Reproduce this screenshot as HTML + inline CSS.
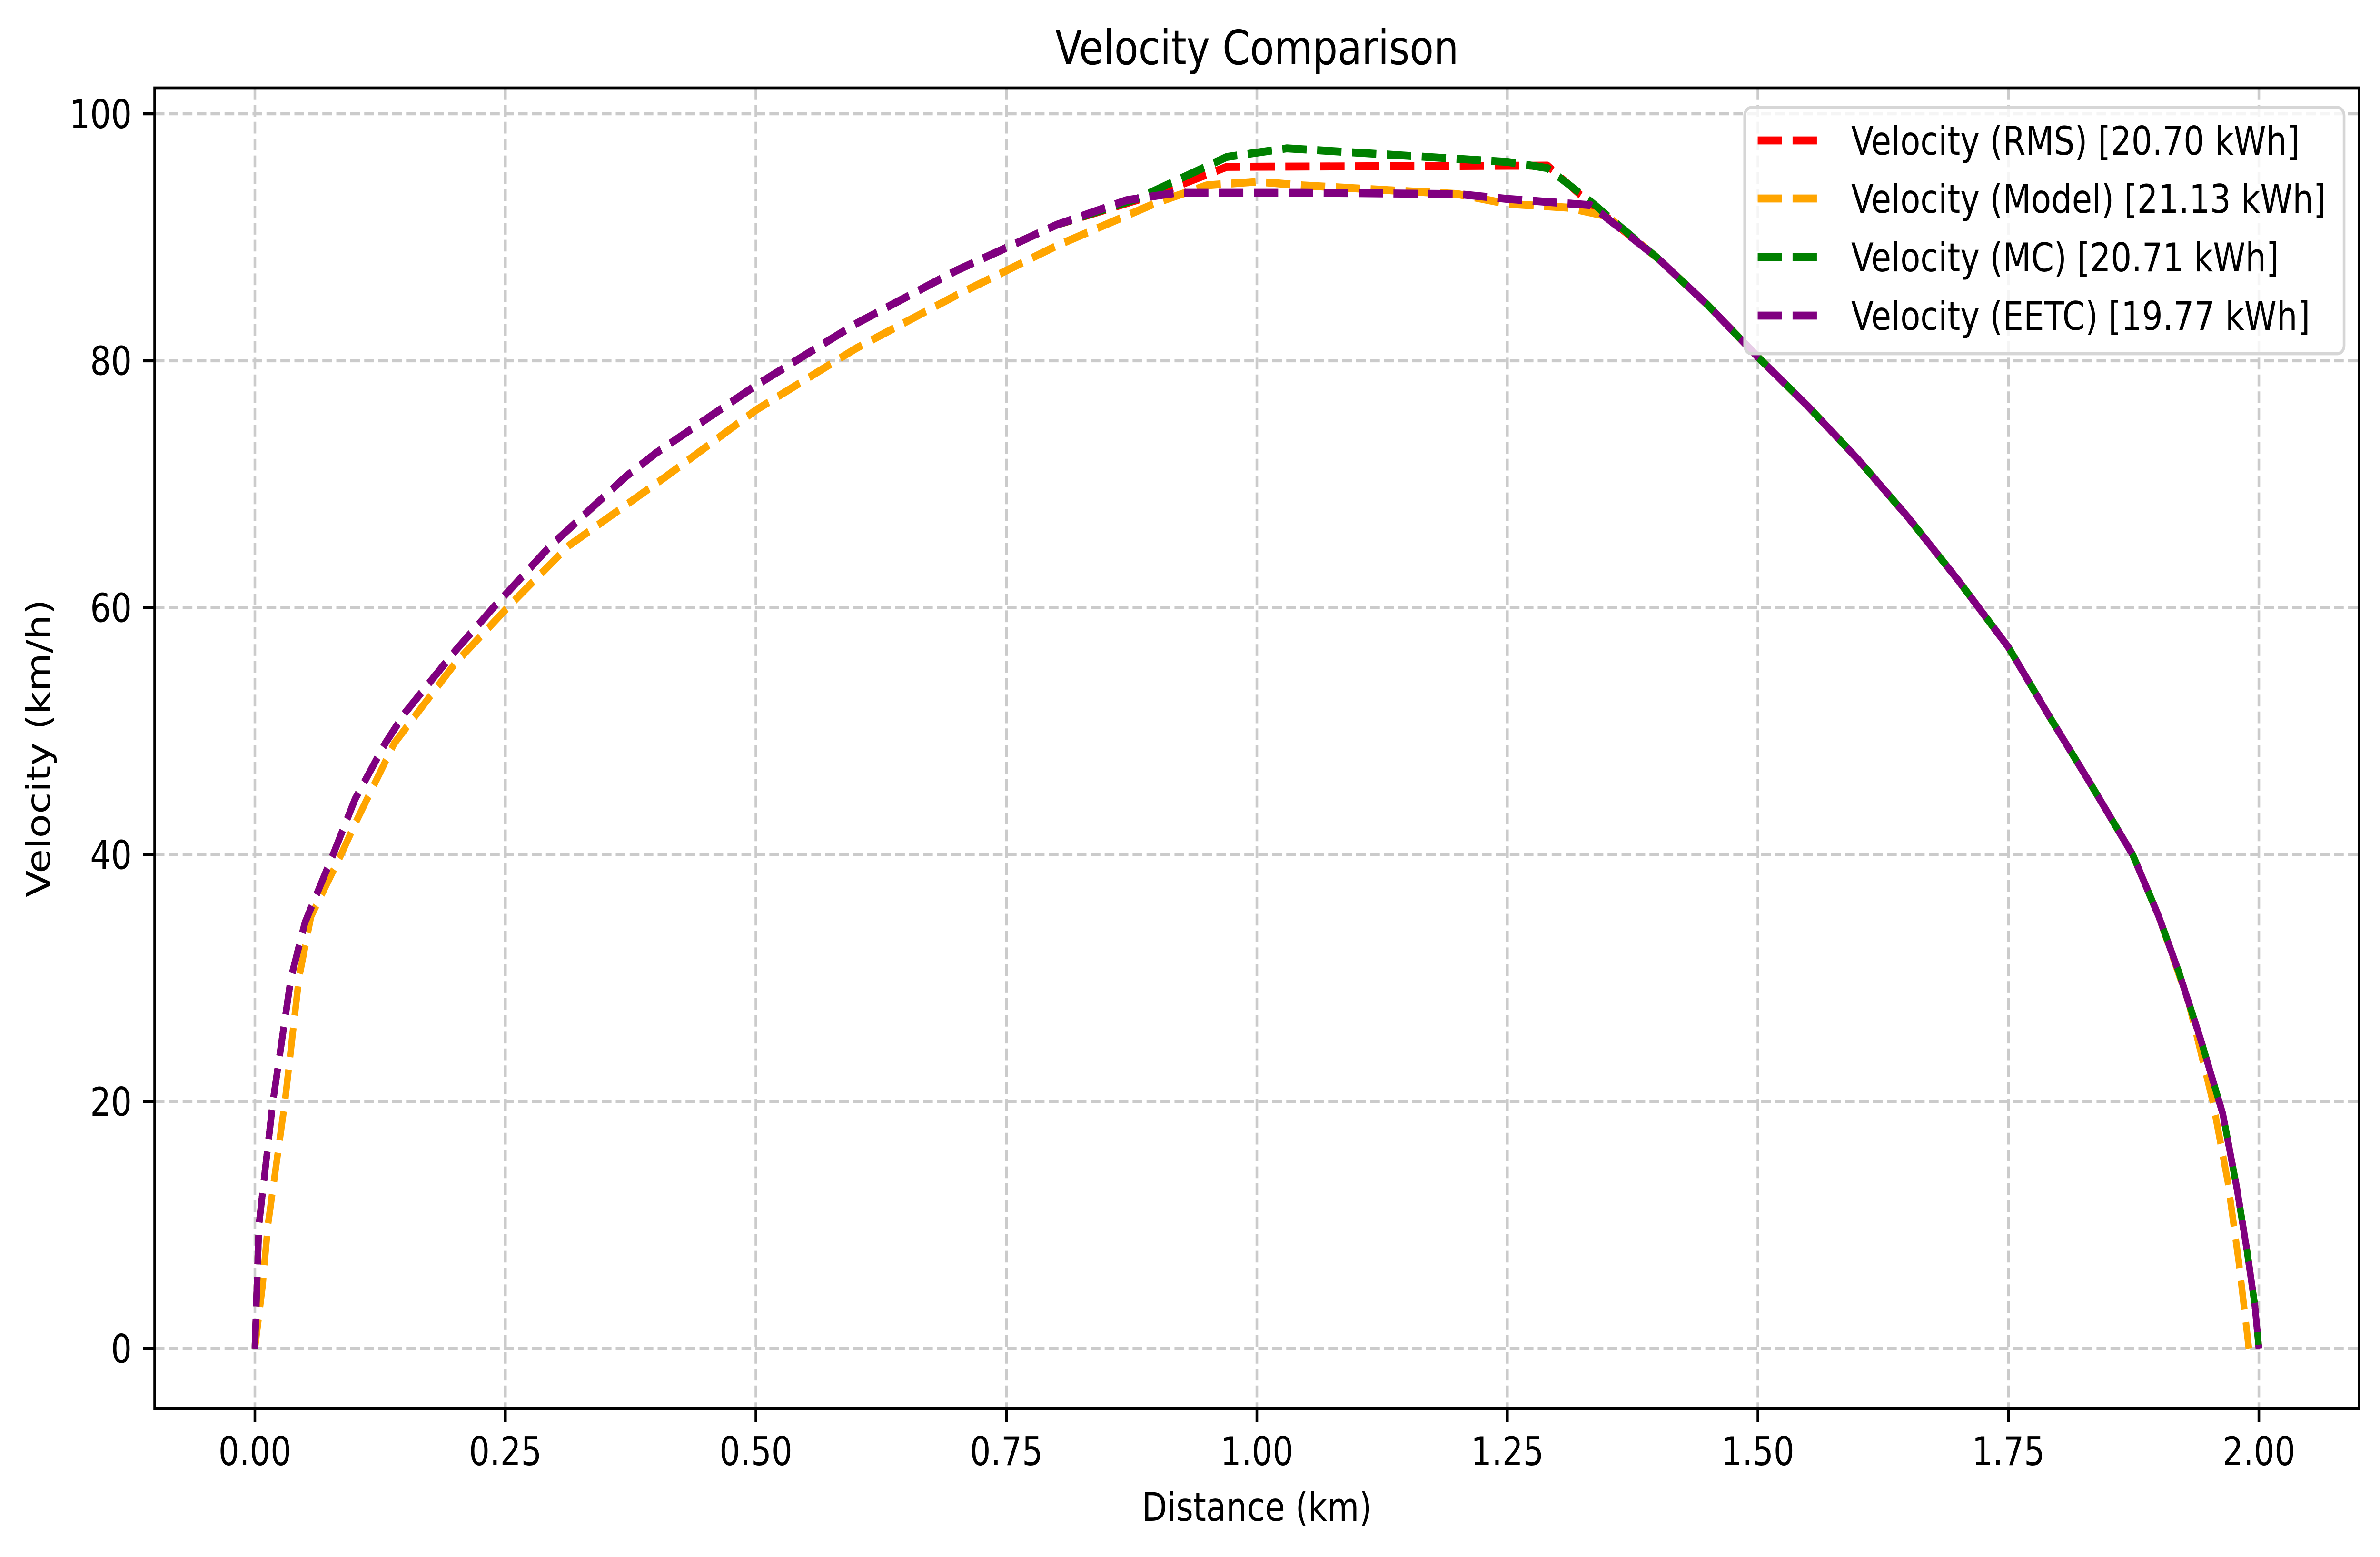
<!DOCTYPE html>
<html><head><meta charset="utf-8"><style>
html,body{margin:0;padding:0;background:#fff;overflow:hidden;width:100%;height:100%;}
svg{display:block;position:absolute;left:0;top:0;width:100vw;height:100vh;font-family:"DejaVu Sans","Liberation Sans",sans-serif;}
</style></head>
<body>
<svg id="chart" viewBox="0 0 6031 3271" preserveAspectRatio="none" xmlns="http://www.w3.org/2000/svg">
<rect width="6031" height="3271" fill="#fff"/>
<g id="grid"></g>
<g id="series"></g>
<rect x="392" y="185" width="5586" height="2774" fill="none" stroke="#000" stroke-width="6.7"/>
<g id="ticks"></g>
<text x="3185" y="135" font-size="100" text-anchor="middle">Velocity Comparison</text>
<text x="3185" y="3195" font-size="83" text-anchor="middle">Distance (km)</text>
<text transform="translate(126,1572) rotate(-90)" font-size="83" text-anchor="middle">Velocity (km/h)</text>
<g id="legend"></g>
</svg>
<script>
const xTicks = [0, 0.25, 0.5, 0.75, 1.0, 1.25, 1.5, 1.75, 2.0];
const xTickLabels = ["0.00","0.25","0.50","0.75","1.00","1.25","1.50","1.75","2.00"];
const yTicks = [0, 20, 40, 60, 80, 100];
const yTickLabels = ["0","20","40","60","80","100"];
const seriesNames = ["Velocity (RMS) [20.70 kWh]","Velocity (Model) [21.13 kWh]","Velocity (MC) [20.71 kWh]","Velocity (EETC) [19.77 kWh]"];
const seriesColors = ["#ff0000","#ffa500","#008000","#800080"];
const purpleX = [0,0.002,0.004,0.011,0.018,0.036,0.05,0.078,0.1,0.13,0.15,0.2,0.238,0.295,0.37,0.4,0.5,0.6,0.7,0.8,0.87,0.92,1.0,1.045,1.2,1.25,1.333,1.4,1.45,1.5,1.55,1.6,1.65,1.7,1.75,1.79,1.83,1.874,1.9,1.92,1.942,1.964,1.978,1.988,1.996,2.0];
const purpleY = [0,5,10,15,20,30,34.5,40,44.5,49,51.5,56.5,60,65,70.6,72.5,78,83,87.3,91,93,93.6,93.6,93.6,93.5,93.1,92.6,88.3,84.5,80.3,76.3,72,67.3,62.2,56.8,51.3,46,40,35,30.5,25,19,13,8,3.5,0];
const orangeX = [0,0.0075,0.013,0.03,0.044,0.056,0.086,0.1,0.139,0.2,0.252,0.313,0.41,0.5,0.6,0.7,0.8,0.9,0.95,1.0,1.045,1.2,1.25,1.31,1.35,1.4,1.45,1.5,1.55,1.6,1.65,1.7,1.75,1.79,1.83,1.874,1.9,1.93,1.954,1.969,1.98,1.99];
const orangeY = [0,5,10,20,30,35,40,42.5,49,55.5,60,65,70.6,76,81,85.3,89.3,92.8,94.2,94.5,94.2,93.5,92.7,92.4,91.7,88.3,84.5,80.3,76.3,72,67.3,62.2,56.8,51.3,46,40,35,28,20,13.5,7,0];
const greenX = [0,0.002,0.004,0.011,0.018,0.036,0.05,0.078,0.1,0.13,0.15,0.2,0.238,0.295,0.37,0.4,0.5,0.6,0.7,0.8,0.88,0.97,1.03,1.25,1.29,1.333,1.4,1.45,1.5,1.55,1.6,1.65,1.7,1.75,1.79,1.83,1.874,1.9,1.92,1.942,1.964,1.978,1.988,1.996,2.0];
const greenY = [0,5,10,15,20,30,34.5,40,44.5,49,51.5,56.5,60,65,70.6,72.5,78,83,87.3,91,93.1,96.5,97.2,96.1,95.6,92.9,88.3,84.5,80.3,76.3,72,67.3,62.2,56.8,51.3,46,40,35,30.5,25,19,13,8,3.5,0];
const redX = [0,0.002,0.004,0.011,0.018,0.036,0.05,0.078,0.1,0.13,0.15,0.2,0.238,0.295,0.37,0.4,0.5,0.6,0.7,0.8,0.9,0.97,1.29,1.333,1.4,1.45,1.5,1.55,1.6,1.65,1.7,1.75,1.79,1.83,1.874,1.9,1.92,1.942,1.964,1.978,1.988,1.996,2.0];
const redY = [0,5,10,15,20,30,34.5,40,44.5,49,51.5,56.5,60,65,70.6,72.5,78,83,87.3,91,93.5,95.7,95.8,92.7,88.3,84.5,80.3,76.3,72,67.3,62.2,56.8,51.3,46,40,35,30.5,25,19,13,8,3.5,0];

const NS = "http://www.w3.org/2000/svg";
const L = 392, R = 5978, T = 185, B = 2959;
const xMin = -0.1, xMax = 2.1, yMin = -4.86, yMax = 102.08;
function sx(v){ return L + (v - xMin) / (xMax - xMin) * (R - L); }
function sy(v){ return B - (v - yMin) / (yMax - yMin) * (B - T); }
function mk(tag, attrs, parent){ const e = document.createElementNS(NS, tag); for (const k in attrs) e.setAttribute(k, attrs[k]); parent.appendChild(e); return e; }

const grid = document.getElementById('grid');
const ticks = document.getElementById('ticks');
xTicks.forEach((t, i) => {
  const g = mk('line', {x1: sx(t), x2: sx(t), y1: T, y2: B, stroke: '#cbcbcb', 'stroke-width': 6.7, 'stroke-dasharray': '24.7 10.7'}, grid);
  
  
  const tk = mk('line', {x1: sx(t), x2: sx(t), y1: B, y2: B + 29, stroke: '#000', 'stroke-width': 6.7}, ticks);
  
  
  const tx = mk('text', {x: sx(t), y: 3078, 'font-size': 83, 'text-anchor': 'middle'}, ticks);
  tx.textContent = xTickLabels[i];
  
  
});
yTicks.forEach((t, i) => {
  const g = mk('line', {x1: L, x2: R, y1: sy(t), y2: sy(t), stroke: '#cbcbcb', 'stroke-width': 6.7, 'stroke-dasharray': '24.7 10.7'}, grid);
  
  
  const tk = mk('line', {x1: L - 29, x2: L, y1: sy(t), y2: sy(t), stroke: '#000', 'stroke-width': 6.7}, ticks);
  
  
  const tx = mk('text', {x: 334, y: sy(t) + 30, 'font-size': 83, 'text-anchor': 'end'}, ticks);
  tx.textContent = yTickLabels[i];
  
  
});

const seriesData = [[redX, redY], [orangeX, orangeY], [greenX, greenY], [purpleX, purpleY]];
const seriesKeys = ['rms', 'model', 'mc', 'eetc'];
const sg = document.getElementById('series');
seriesData.forEach((d, i) => {
  const pts = d[0].map((x, j) => sx(x).toFixed(1) + ',' + sy(d[1][j]).toFixed(1)).join(' ');
  const pl = mk('polyline', {points: pts, fill: 'none', stroke: seriesColors[i], 'stroke-width': 16.7, 'stroke-dasharray': '61.7 26.7', 'stroke-linejoin': 'round'}, sg);
  
  
});

const lg = document.getElementById('legend');
const box = mk('rect', {x: 4421, y: 226, width: 1519, height: 517, rx: 17, fill: '#fff', 'fill-opacity': 0.8, stroke: '#d6d6d6', 'stroke-width': 6.7}, lg);


const ly = [295, 417, 540, 663];
seriesNames.forEach((n, i) => {
  const h = mk('line', {x1: 4454, x2: 4604, y1: ly[i], y2: ly[i], stroke: seriesColors[i], 'stroke-width': 16.7, 'stroke-dasharray': '61.7 26.7'}, lg);
  
  
  const t = mk('text', {x: 4691, y: ly[i] + 30, 'font-size': 83}, lg);
  t.textContent = n;
  
  
});
</script>
</body></html>
